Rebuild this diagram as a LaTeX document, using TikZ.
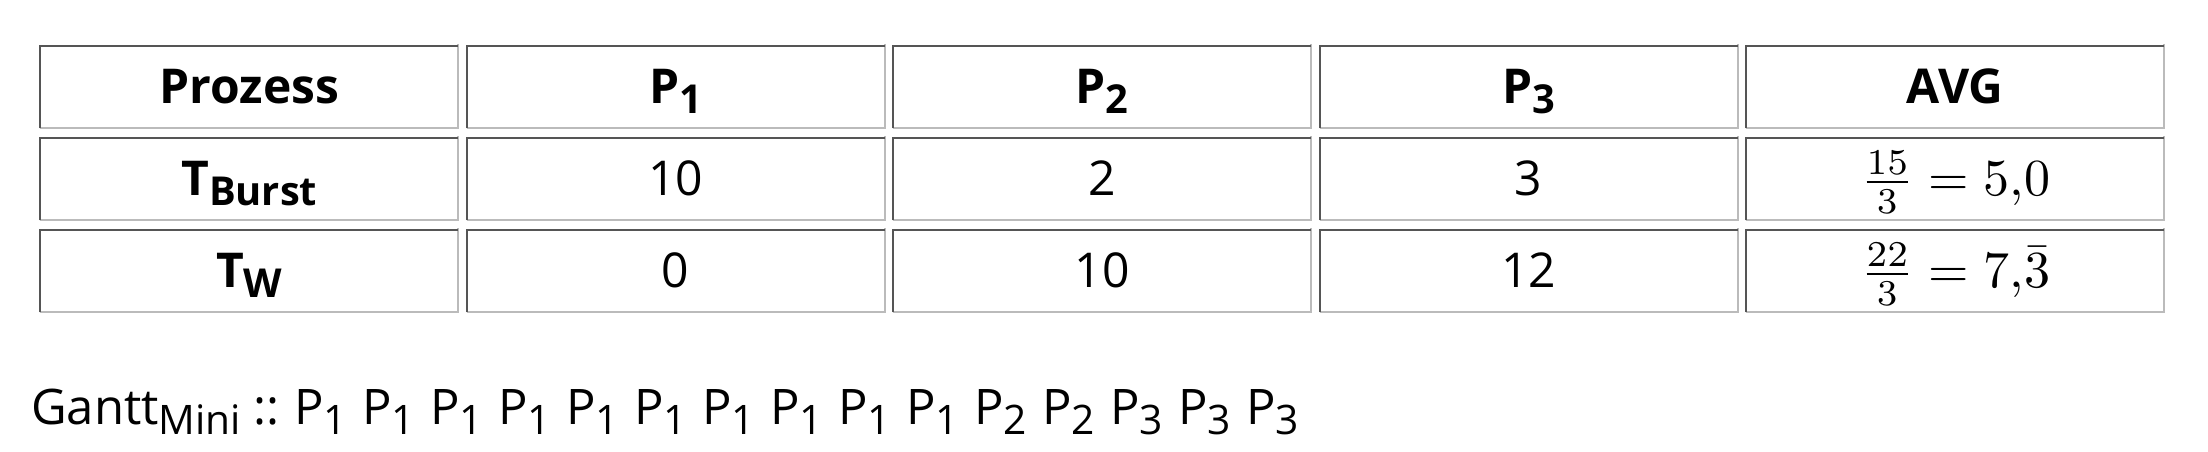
\documentclass[tikz,border=0pt]{standalone}
\usepackage{amsmath}
\usepackage[no-math]{fontspec}
\usepackage{tikz}
\newfontfamily\osans{Open Sans}
\newcommand{\lowsub}[1]{\raisebox{-0.22em}{\scalebox{0.83}{#1}}}
\newcommand{\avgmath}[1]{\scalebox{5.2}{\fontsize{10}{12}\selectfont$#1$}}

\begin{document}
\begin{tikzpicture}[x=1pt,y=1pt]
    \definecolor{dkgray}{HTML}{555555}
    \definecolor{ltgray}{HTML}{BBBBBB}
    \tikzset{
        cell/.style={anchor=north west, inner sep=0pt, minimum width=420pt,
            text height=58pt, text depth=26pt, align=center,
            font=\osans\fontsize{48}{58}\selectfont},
        head/.style={cell, font=\osans\bfseries\fontsize{48}{58}\selectfont},
        gantttext/.style={anchor=base west, inner sep=0pt,
            font=\osans\fontsize{49}{59}\selectfont},
        dkline/.style={dkgray, line width=2pt},
        ltline/.style={ltgray, line width=2pt}
    }
    \useasboundingbox (0,0) rectangle (2208,-452);
    %header
    \node[head] (h1) at (39,-45) {Prozess};
    \node[head] (h2) at (465.5,-45) {P\lowsub{1}};
    \node[head] (h3) at (892,-45) {P\lowsub{2}};
    \node[head] (h4) at (1318.5,-45) {P\lowsub{3}};
    \node[head] (h5) at (1745,-45) {AVG};
    %burst times
    \node[head] (b1) at (39,-137) {T\lowsub{Burst}};
    \node[cell] (b2) at (465.5,-137) {10};
    \node[cell] (b3) at (892,-137) {2};
    \node[cell] (b4) at (1318.5,-137) {3};
    \node[cell] (b5) at (1745,-137) {\avgmath{\frac{15}{3} = 5{,}0}};
    %waiting times
    \node[head] (w1) at (39,-229) {T\lowsub{W}};
    \node[cell] (w2) at (465.5,-229) {0};
    \node[cell] (w3) at (892,-229) {10};
    \node[cell] (w4) at (1318.5,-229) {12};
    \node[cell] (w5) at (1745,-229) {\avgmath{\frac{22}{3} = 7{,}\bar{3}}};
    %borders
    \foreach \n in {h1,h2,h3,h4,h5,b1,b2,b3,b4,b5,w1,w2,w3,w4,w5} {
        \draw[ltline] ([shift={(-1,1)}]\n.north east) -- ([shift={(-1,1)}]\n.south east) -- ([shift={(1,1)}]\n.south west);
        \draw[dkline] ([shift={(1,1)}]\n.south west) -- ([shift={(1,-1)}]\n.north west) -- ([shift={(-1,-1)}]\n.north east);
    }
    %gantt line
    \node[gantttext] (gantt) at (31,-424) {Gantt\lowsub{Mini} ::};
    \foreach \p [count=\i from 0] in {1,1,1,1,1,1,1,1,1,1,2,2,3,3,3}
        \node[gantttext] (g\i) at (294+68*\i,-424) {P\lowsub{\p}};
\end{tikzpicture}
\end{document}
